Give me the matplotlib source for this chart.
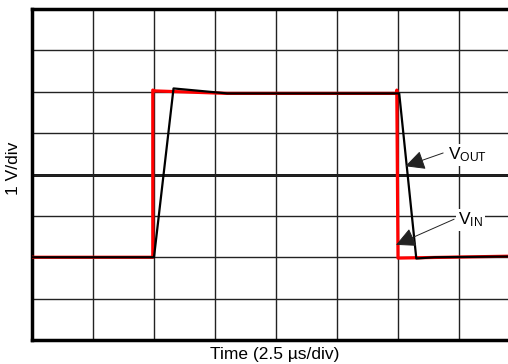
import matplotlib
matplotlib.use("Agg")
import matplotlib.pyplot as plt

plt.rcParams['font.family'] = ['Liberation Sans', 'DejaVu Sans']
plt.rcParams['mathtext.default'] = 'regular'

# Time in microseconds (2.5 us/div), voltage in volts (1 V/div)
vin_t = [0, 4.95, 4.95, 5.05, 8.0, 14.95, 14.95, 15.0, 20]
vin_v = [-2.0, -2.0, 2.04, 2.02, 1.96, 1.96, 2.04, -2.02, -1.97]

vout_t = [0, 5.0, 5.8, 8.0, 15.05, 15.75, 16.5, 20]
vout_v = [-2.0, -2.0, 2.08, 1.96, 1.96, -2.03, -2.0, -1.98]

x_ticks = [0, 2.5, 5, 7.5, 10, 12.5, 15, 17.5, 20]
y_ticks = [-4, -3, -2, -1, 0, 1, 2, 3, 4]

fig = plt.figure(figsize=(5.08, 3.64), dpi=100)
W, H = 508, 364
ax = fig.add_axes([32 / W, 24 / H, 488 / W, 331 / H])
ax.set_xlim(0, 20)
ax.set_ylim(-4, 4)
ax.set_xticks(x_ticks)
ax.set_yticks(y_ticks)
ax.tick_params(length=0, labelbottom=False, labelleft=False)
ax.grid(True, color='#222222', lw=1.0)
ax.axhline(0, color='black', lw=2.0, zorder=1.5)
for s in ax.spines.values():
    s.set_linewidth(2.5)

ax.plot(vin_t, vin_v, color='#ff0000', lw=2.3, zorder=3)
ax.plot(vout_t, vout_v, color='black', lw=1.6, zorder=4)

arrow = dict(arrowstyle='-|>,head_length=0.6,head_width=0.3', mutation_scale=20,
             lw=0.7, color='#222222', shrinkA=0, shrinkB=0)
ax.annotate('', xy=(15.3, 0.2), xytext=(16.85, 0.52), arrowprops=arrow, zorder=5)
ax.annotate('', xy=(14.92, -1.70), xytext=(17.3, -1.08), arrowprops=arrow, zorder=5)
bb = dict(facecolor='white', edgecolor='none', pad=1.5)
ax.text(17.05, 0.47, 'V$_{OUT}$', fontsize=12.5, ha='left', va='center', bbox=bb, zorder=6)
ax.text(17.45, -1.1, 'V$_{IN}$', fontsize=12.5, ha='left', va='center', bbox=bb, zorder=6)

fig.text(275 / W, 1 - 355 / H, 'Time (2.5 µs/div)', fontsize=12.5, ha='center', va='center')
fig.text(13 / W, 1 - 168 / H, '1 V/div', fontsize=12.5, ha='center', va='center', rotation=90)

fig.savefig('out.png', dpi=100)
